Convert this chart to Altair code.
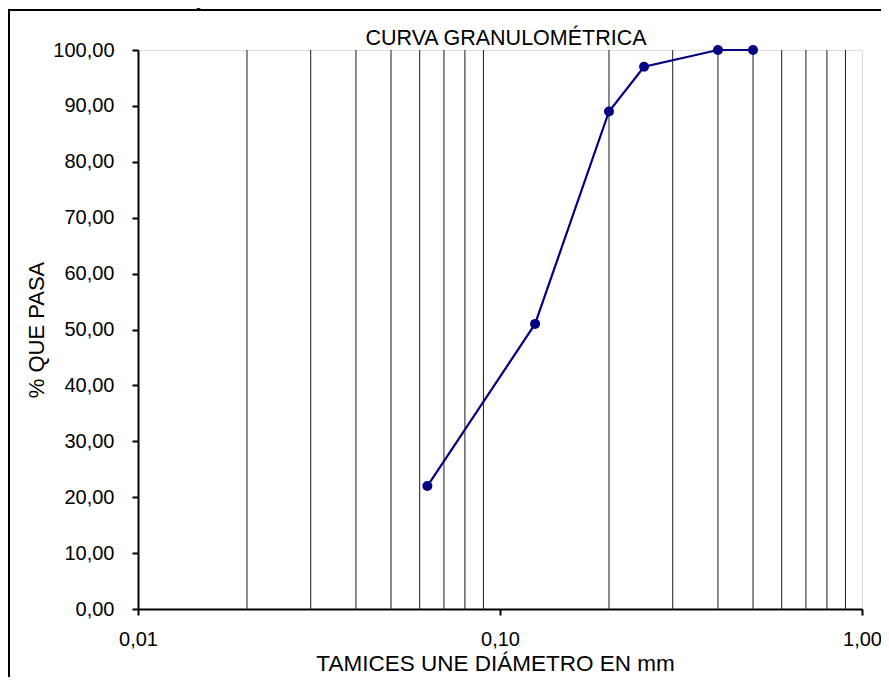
import altair as alt
import pandas as pd

# Data
diametro = [0.063, 0.125, 0.2, 0.25, 0.4, 0.5]
pasa = [22.0, 51.0, 89.0, 97.0, 100.0, 100.0]
grid_x = [0.02, 0.03, 0.04, 0.05, 0.06, 0.07, 0.08, 0.09,
          0.2, 0.3, 0.4, 0.5, 0.6, 0.7, 0.8, 0.9]
x_ticks = [0.01, 0.1, 1.0]
y_ticks = [0, 10, 20, 30, 40, 50, 60, 70, 80, 90, 100]

W, H = 724, 559
FONT = "Liberation Sans"
LBL = "replace(format(datum.value, '.2f'), '.', ',')"

df = pd.DataFrame({"d": diametro, "p": pasa})
gdf = pd.DataFrame({"g": grid_x})
one = pd.DataFrame({"k": [0]})

xscale = alt.Scale(type="log", domain=[0.01, 1], nice=False)
yscale = alt.Scale(domain=[0, 100], nice=False, zero=True)

xaxis = alt.Axis(values=x_ticks, labelExpr=LBL, grid=False, tickSize=6, tickWidth=2,
                 tickColor="black", domainColor="black", domainWidth=2,
                 labelFont=FONT, labelFontSize=20, labelColor="black", labelPadding=14,
                 labelFlush=False,
                 title="TAMICES UNE DIÁMETRO EN mm", titleFont=FONT, titleFontSize=22.5,
                 titleFontWeight="normal", titleColor="black", titleX=357, titleY=61,
                 titleBaseline="alphabetic", titleAnchor="middle", titleAlign="center")
yaxis = alt.Axis(values=y_ticks, labelExpr=LBL, grid=False, tickSize=6, tickWidth=2,
                 tickColor="black", domainColor="black", domainWidth=2,
                 labelFont=FONT, labelFontSize=20, labelColor="black", labelPadding=18,
                 labelFlush=False,
                 title="% QUE PASA", titleFont=FONT, titleFontSize=22,
                 titleFontWeight="normal", titleColor="black", titleX=-102, titleY=H / 2,
                 titleAngle=270, titleBaseline="middle", titleAlign="center")

grid = alt.Chart(gdf).mark_rule(color="#1a1a1a", strokeWidth=1).encode(
    x=alt.X("g:Q", scale=xscale, axis=xaxis),
    y=alt.value(0), y2=alt.value(H))

line = alt.Chart(df).mark_line(color="#000080", strokeWidth=2.2).encode(
    x=alt.X("d:Q", scale=xscale, axis=xaxis),
    y=alt.Y("p:Q", scale=yscale, axis=yaxis))

pts = alt.Chart(df).mark_point(filled=True, shape="circle", size=100,
                               color="#000080", opacity=1).encode(
    x=alt.X("d:Q", scale=xscale, axis=xaxis),
    y=alt.Y("p:Q", scale=yscale, axis=yaxis))

frame = alt.Chart(one).mark_rect(fill=None, stroke="black", strokeWidth=2).encode(
    x=alt.value(-129), x2=alt.value(W + 40), y=alt.value(-40), y2=alt.value(H + 120))

titulo = alt.Chart(one).mark_text(text="CURVA GRANULOMÉTRICA", font=FONT, fontSize=21.5,
                                  color="black", align="center", baseline="alphabetic").encode(
    x=alt.value(W / 2 + 6), y=alt.value(-5))

encabezado = alt.Chart(one).mark_text(text="Resultados de los ensayos.", font=FONT,
                                      fontSize=18, fontWeight="bold", color="black",
                                      align="left", baseline="alphabetic").encode(
    x=alt.value(-142), y=alt.value(-45))

chart = alt.layer(frame, grid, line, pts, titulo, encabezado).properties(
    width=W, height=H,
    autosize=alt.AutoSizeParams(type="none"),
    padding={"left": 130, "top": 42, "right": 19, "bottom": 68},
).configure_view(stroke="black", strokeWidth=1).configure(background="white")

chart.save("out.html", embed_options={"renderer": "svg", "actions": False})
